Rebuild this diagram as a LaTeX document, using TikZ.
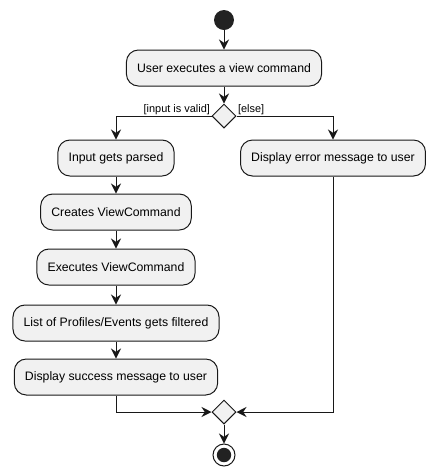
\documentclass[tikz,border=0pt]{standalone}
\usepackage{fontspec}
\setmainfont{Liberation Sans}
\usetikzlibrary{arrows.meta,shapes.geometric}

\begin{document}
\begin{tikzpicture}[x=0.75pt,y=0.75pt,yscale=-1,xscale=1,
  act/.style={draw={rgb,255:red,24;green,24;blue,24}, fill={rgb,255:red,241;green,241;blue,241}, line width=0.75pt, rounded corners=9pt, minimum height=27pt, inner xsep=8pt, font=\fontsize{9.2}{11}\selectfont},
  choice/.style={diamond, draw={rgb,255:red,24;green,24;blue,24}, fill={rgb,255:red,241;green,241;blue,241}, line width=0.75pt, minimum width=18pt, minimum height=18pt, inner sep=0pt},
  guard/.style={font=\fontsize{8.2}{10}\selectfont, inner sep=1pt},
  flow/.style={draw={rgb,255:red,24;green,24;blue,24}, line width=0.75pt, -{Stealth[length=7.5pt,width=7.5pt,inset=2.5pt]}}]
\useasboundingbox (0,0) rectangle (436,476);

%Shape: Start
\node [circle, fill={rgb,255:red,34;green,34;blue,34}, minimum size=15pt, inner sep=0pt] (start) at (224,20) {};
%Shape: Actions
\node [act] (view) at (224,68) {User executes a view command};
\node [choice] (valid) at (224,116) {};
\node [act] (parse) at (116,158) {Input gets parsed};
\node [act] (create) at (116,212) {Creates ViewCommand};
\node [act] (execute) at (116,267) {Executes ViewCommand};
\node [act] (filter) at (116,323) {List of Profiles/Events gets filtered};
\node [act] (success) at (116,377) {Display success message to user};
\node [act] (error) at (333,158) {Display error message to user};
\node [choice] (merge) at (224,412) {};
%Shape: Stop
\node [circle, draw={rgb,255:red,24;green,24;blue,24}, fill=white, line width=0.75pt, minimum size=16.5pt, inner sep=0pt] (stop) at (224,455) {};
\fill [color={rgb,255:red,34;green,34;blue,34}] (stop.center) circle (5.4pt);

% Text Node
\node [guard, anchor=south east] (yes) at (valid.west) {[input is valid]};
% Text Node
\node [guard, anchor=south west] (no) at (valid.east) {[else]};

%Straight Lines
\draw [flow] (start) -- (view);
\draw [flow] (view) -- (valid);
\draw [flow] (valid.west) -| (parse.north);
\draw [flow] (valid.east) -| (error.north);
\draw [flow] (parse) -- (create);
\draw [flow] (create) -- (execute);
\draw [flow] (execute) -- (filter);
\draw [flow] (filter) -- (success);
\draw [flow] (success.south) |- (merge.west);
\draw [flow] (error.south) |- (merge.east);
\draw [flow] (merge) -- (stop);

\end{tikzpicture}
\end{document}
